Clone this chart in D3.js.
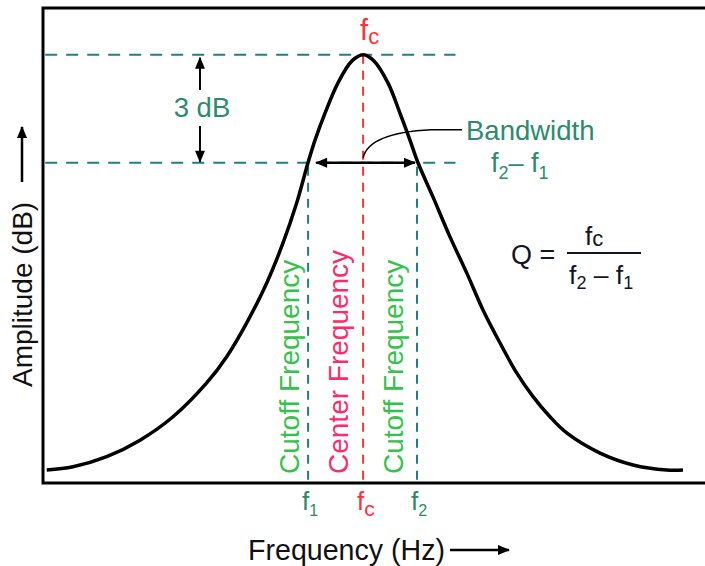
<!DOCTYPE html>
<html lang="en">

<head>
    <meta charset="UTF-8">
    <script src="https://d3js.org/d3.v7.min.js"></script>
    <style>
        body {
            margin: 0;
            background: #fff;
            font-family: "Liberation Sans", Arial, sans-serif;
        }

        .curve {
            fill: none;
            stroke: #000;
            stroke-width: 3.5;
        }

        .teal-dash {
            stroke: #1e7f86;
            stroke-width: 2;
        }
    </style>
</head>

<body>

    <svg id="canvas" width="705" height="566"></svg>

    <script>
        // response curve (frequency units, amplitude in dB)
        let freq = [0.34, 2.73, 5.79, 8.82, 11.82, 14.88, 16.7, 18.52, 20.34, 21.82, 23.06, 24.09, 24.73, 25.64, 26.82, 28.09, 29.12,
            30.09, 31.36, 32.45, 33.36, 34.09, 35.45, 37.0, 38.52, 40.0, 41.55, 43.06, 44.55, 46.09, 47.61, 50.64, 53.64, 56.7, 58.18];
        let amp = [-11.54, -11.45, -11.17, -10.71, -10.06, -9.12, -8.39, -7.45, -6.34, -5.23, -4.12, -3.0, -2.37, -1.62, -0.78, -0.17, 0,
            -0.17, -0.78, -1.62, -2.37, -3.0, -3.95, -5.06, -6.06, -7.09, -8.01, -8.84, -9.5, -10.06, -10.51, -11.07, -11.4, -11.54, -11.54];

        // marker frequencies and levels
        let f1 = 24.1, fc = 29.1, f2 = 34.0;
        let peakDb = 0, cutDb = -3;

        let svg = d3.select("#canvas");

        const xScale = d3.scaleLinear().domain([0, 60]).range([43, 703]);
        const yScale = d3.scaleLinear().domain([-11.9, 1.3]).range([483, 8]);

        const tealText = "#2a8c6c";
        const red = "#ff3038";

        // arrow heads
        let defs = svg.append("defs");
        defs.append("marker")
            .attr("id", "head")
            .attr("viewBox", "0 0 12 10")
            .attr("refX", 11).attr("refY", 5)
            .attr("markerWidth", 13).attr("markerHeight", 10)
            .attr("markerUnits", "userSpaceOnUse")
            .attr("orient", "auto-start-reverse")
            .append("path")
            .attr("d", "M0,0 L12,5 L0,10 Z")
            .attr("fill", "#000");

        // dashed reference levels
        svg.selectAll(".level")
            .data([peakDb, cutDb])
            .join("line")
            .attr("class", "teal-dash")
            .attr("x1", xScale(0.2)).attr("x2", xScale(37.5))
            .attr("y1", d => yScale(d)).attr("y2", d => yScale(d))
            .attr("stroke-dasharray", "12,9");

        // cutoff verticals
        svg.selectAll(".cut")
            .data([f1, f2])
            .join("line")
            .attr("class", "teal-dash")
            .attr("x1", d => xScale(d)).attr("x2", d => xScale(d))
            .attr("y1", yScale(cutDb) + 4).attr("y2", yScale.range()[0])
            .attr("stroke-dasharray", "9,7");

        // centre vertical
        svg.append("line")
            .attr("x1", xScale(fc)).attr("x2", xScale(fc))
            .attr("y1", yScale(peakDb)).attr("y2", yScale.range()[0])
            .attr("stroke", red)
            .attr("stroke-width", 2)
            .attr("stroke-dasharray", "9,7");

        // the curve
        const lineGenerator = d3.line()
            .x((d, i) => xScale(freq[i]))
            .y(d => yScale(d))
            .curve(d3.curveCatmullRom.alpha(0.5));

        svg.append("path")
            .attr("class", "curve")
            .attr("d", lineGenerator(amp));

        // frame (right side runs off the picture)
        svg.append("rect")
            .attr("x", 43).attr("y", 8)
            .attr("width", 720).attr("height", 475)
            .attr("fill", "none")
            .attr("stroke", "#000")
            .attr("stroke-width", 3);

        // 3 dB arrow
        let xDb = xScale(14.27);
        svg.append("line")
            .attr("x1", xDb).attr("x2", xDb)
            .attr("y1", 90).attr("y2", yScale(peakDb) + 3)
            .attr("stroke", "#000").attr("stroke-width", 2)
            .attr("marker-end", "url(#head)");
        svg.append("line")
            .attr("x1", xDb).attr("x2", xDb)
            .attr("y1", 126).attr("y2", yScale(cutDb) - 1)
            .attr("stroke", "#000").attr("stroke-width", 2)
            .attr("marker-end", "url(#head)");
        svg.append("text")
            .attr("x", xDb + 2).attr("y", 117)
            .attr("text-anchor", "middle")
            .attr("font-size", 27.5)
            .attr("fill", tealText)
            .text("3 dB");

        // bandwidth double arrow
        svg.append("line")
            .attr("x1", xScale(f1) + 8).attr("x2", xScale(f2) - 2)
            .attr("y1", yScale(cutDb)).attr("y2", yScale(cutDb))
            .attr("stroke", "#000").attr("stroke-width", 2.5)
            .attr("marker-start", "url(#head)")
            .attr("marker-end", "url(#head)");

        // leader to the Bandwidth label
        let lp = d3.path();
        lp.moveTo(xScale(fc), yScale(cutDb) - 5);
        lp.quadraticCurveTo(xScale(fc) + 6, yScale(cutDb) - 30, xScale(fc) + 68, yScale(cutDb) - 33);
        lp.lineTo(xScale(fc) + 99, yScale(cutDb) - 33);
        svg.append("path")
            .attr("d", lp.toString())
            .attr("fill", "none")
            .attr("stroke", "#000")
            .attr("stroke-width", 1.5);

        svg.append("text")
            .attr("x", 466).attr("y", 140)
            .attr("font-size", 27.5)
            .attr("fill", tealText)
            .text("Bandwidth");

        let bw = svg.append("text")
            .attr("x", 491).attr("y", 172)
            .attr("font-size", 27)
            .attr("fill", tealText);
        bw.append("tspan").text("f");
        bw.append("tspan").attr("font-size", 18).attr("dy", 7).text("2");
        bw.append("tspan").attr("dy", -7).text("\u2013 f");
        bw.append("tspan").attr("font-size", 18).attr("dy", 7).text("1");

        // Q formula
        const ink = "#141428";
        svg.append("text")
            .attr("x", 511).attr("y", 264)
            .attr("font-size", 27)
            .attr("fill", ink)
            .text("Q =");
        svg.append("line")
            .attr("x1", 567).attr("x2", 641)
            .attr("y1", 253).attr("y2", 253)
            .attr("stroke", ink).attr("stroke-width", 2);
        let num = svg.append("text")
            .attr("x", 585).attr("y", 245)
            .attr("font-size", 26)
            .attr("fill", ink);
        num.append("tspan").text("f");
        num.append("tspan").attr("font-size", 22).attr("dy", 1).text("c");
        let den = svg.append("text")
            .attr("x", 569).attr("y", 284)
            .attr("font-size", 26.5)
            .attr("fill", ink);
        den.append("tspan").text("f");
        den.append("tspan").attr("font-size", 18).attr("dy", 5).text("2");
        den.append("tspan").attr("dy", -5).text(" \u2013 f");
        den.append("tspan").attr("font-size", 18).attr("dy", 5).text("1");

        // vertical labels along the marker lines
        let vLabels = [
            { f: f1, dx: -9, text: "Cutoff Frequency", color: "#33c24a" },
            { f: fc, dx: -15, text: "Center Frequency", color: "#ff2a6a" },
            { f: f2, dx: -14, text: "Cutoff Frequency", color: "#33c24a" }
        ];
        svg.selectAll(".vlabel")
            .data(vLabels)
            .join("text")
            .attr("transform", d => `translate(${xScale(d.f) + d.dx},474) rotate(-90)`)
            .attr("font-size", 28)
            .attr("fill", d => d.color)
            .text(d => d.text);

        // top fc label
        let topFc = svg.append("text")
            .attr("x", xScale(fc) - 3).attr("y", 40)
            .attr("font-size", 29)
            .attr("fill", red);
        topFc.append("tspan").text("f");
        topFc.append("tspan").attr("font-size", 22).attr("dy", 4).text("c");

        // tick labels under the axis
        let ticks = [
            { f: f1, sub: "1", color: "#2a8a6a", subSize: 16 },
            { f: fc, sub: "c", color: red, subSize: 21 },
            { f: f2, sub: "2", color: "#2a8a6a", subSize: 16 }
        ];
        let tickText = svg.selectAll(".tick")
            .data(ticks)
            .join("text")
            .attr("x", d => xScale(d.f) - 6)
            .attr("y", 510)
            .attr("font-size", 26)
            .attr("fill", d => d.color);
        tickText.append("tspan").text("f");
        tickText.append("tspan")
            .attr("font-size", d => d.subSize)
            .attr("dy", 6)
            .text(d => d.sub);

        // axis titles with arrows
        svg.append("text")
            .attr("x", 248).attr("y", 560)
            .attr("font-size", 28.6)
            .attr("fill", "#111")
            .text("Frequency (Hz)");
        svg.append("line")
            .attr("x1", 450).attr("x2", 509)
            .attr("y1", 550).attr("y2", 550)
            .attr("stroke", "#000").attr("stroke-width", 2.5)
            .attr("marker-end", "url(#head)");

        svg.append("text")
            .attr("transform", "translate(32,387) rotate(-90)")
            .attr("font-size", 28)
            .attr("fill", "#111")
            .text("Amplitude (dB)");
        svg.append("line")
            .attr("x1", 22).attr("x2", 22)
            .attr("y1", 182).attr("y2", 127)
            .attr("stroke", "#000").attr("stroke-width", 2.5)
            .attr("marker-end", "url(#head)");
    </script>
</body>

</html>
